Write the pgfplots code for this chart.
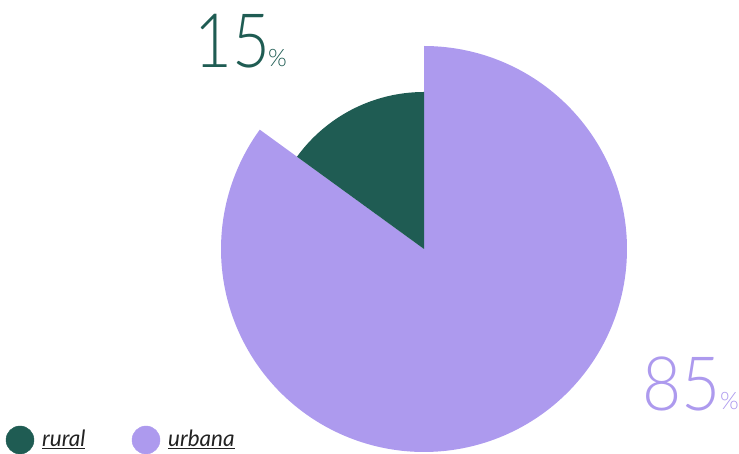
\documentclass[border=0pt]{standalone}
\usepackage{fontspec}
\setmainfont{Lato}[UprightFont=* Light, ItalicFont=* Italic]
\usepackage{graphicx}
\usepackage{pgfplots}
\pgfplotsset{compat=1.18}
\definecolor{rural}{HTML}{1F5C53}
\definecolor{urbana}{HTML}{AD9AEE}
\definecolor{legtext}{HTML}{222222}
% shares (percent) and slice radii (px)
\def\ruralpct{15}
\def\urbanapct{85}
\def\ruralr{157}
\def\urbanar{203}
\def\cx{424}
\def\cy{205}
\begin{document}
\begin{tikzpicture}
\begin{axis}[
  width=739pt, height=454pt, scale only axis,
  xmin=0, xmax=739, ymin=0, ymax=454,
  hide axis, clip=true,
]
\addplot[draw=none, forget plot] coordinates {(0,0) (739,454)};
\pgfmathsetmacro{\aStart}{90}
\pgfmathsetmacro{\aMid}{90+3.6*\ruralpct}
\pgfmathsetmacro{\aEnd}{\aMid+3.6*\urbanapct}
% urbana
\addplot[draw=none, fill=urbana, domain=\aMid:\aEnd, samples=200]
  ({\cx+\urbanar*cos(x)},{\cy+\urbanar*sin(x)}) -- (axis cs:\cx,\cy) -- cycle;
% rural
\addplot[draw=none, fill=rural, domain=\aStart:\aMid, samples=60]
  ({\cx+\ruralr*cos(x)},{\cy+\ruralr*sin(x)}) -- (axis cs:\cx,\cy) -- cycle;
% legend dots
\addplot[only marks, mark=*, mark size=14, color=rural] coordinates {(20,14)};
\addplot[only marks, mark=*, mark size=14, color=urbana] coordinates {(146,14)};
% labels
\node[anchor=base west, inner sep=0, text=rural, font=\fontsize{75}{75}\selectfont] at (axis cs:194,386) {\scalebox{0.87}[1]{15}};
\node[anchor=base west, inner sep=0, text=rural, font=\fontsize{24}{24}\selectfont] at (axis cs:268,387) {\%};
\node[anchor=base west, inner sep=0, text=urbana, font=\fontsize{75}{75}\selectfont] at (axis cs:642,43) {\scalebox{0.9}[1]{85}};
\node[anchor=base west, inner sep=0, text=urbana, font=\fontsize{24}{24}\selectfont] at (axis cs:720,44) {\%};
\node[anchor=base west, inner sep=0, text=legtext, font=\fontsize{22.5}{22.5}\selectfont\itshape] at (axis cs:42,7) {\underline{rural}};
\node[anchor=base west, inner sep=0, text=legtext, font=\fontsize{22.5}{22.5}\selectfont\itshape] at (axis cs:168,7) {\underline{urbana}};
\end{axis}
\end{tikzpicture}
\end{document}
